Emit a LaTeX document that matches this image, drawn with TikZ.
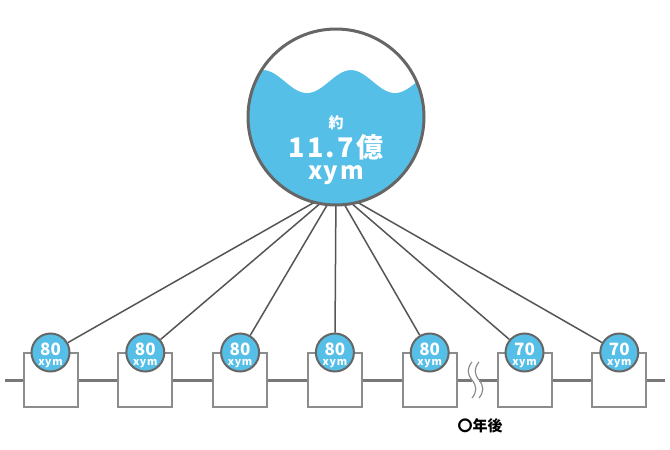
\documentclass[tikz,border=0pt]{standalone}
\usepackage{fontspec}
\setmainfont{Noto Sans CJK JP}
\newfontfamily\widefont[LetterSpace=8]{Noto Sans CJK JP}
\definecolor{water}{RGB}{86,191,232}
\definecolor{rim}{RGB}{102,102,102}
\definecolor{pipe}{RGB}{120,120,120}
\definecolor{wall}{RGB}{140,140,140}
\definecolor{wire}{RGB}{85,85,85}
\begin{document}
\begin{tikzpicture}[x=1pt, y=-1pt,
  meter/.style={circle, draw=rim, line width=2pt, fill=water, minimum size=38pt, inner sep=0pt},
  house/.style={rectangle, draw=wall, line width=2pt, fill=white, minimum size=54pt, inner sep=0pt},
  small/.style={text=white, font=\bfseries, anchor=base, inner sep=0pt}]
\useasboundingbox (0,0) rectangle (670,450);
\coordinate (hub) at (336,190);
\coordinate (west) at (5,380);
\coordinate (east) at (665,380);
\coordinate (brk1) at (472,380);
\coordinate (brk2) at (479,380);
\foreach \i in {1,...,7}
  \node[house] (box\i) at ({50.5+94.8*(\i-1)},380) {};
\draw[pipe, line width=3pt] (west) -- (box1.west);
\foreach \i/\j in {1/2,2/3,3/4,4/5,6/7}
  \draw[pipe, line width=3pt] (box\i.east) -- (box\j.west);
\draw[pipe, line width=3pt] (box5.east) -- (brk1);
\draw[pipe, line width=3pt] (brk2) -- (box6.west);
\draw[pipe, line width=3pt] (box7.east) -- (east);
\draw[wall, line width=1.2pt] (472,362) .. controls (467,368) and (467,374) .. (472,380) .. controls (477,386) and (477,392) .. (472,398);
\draw[wall, line width=1.2pt] (479,362) .. controls (474,368) and (474,374) .. (479,380) .. controls (484,386) and (484,392) .. (479,398);
\node[font=\bfseries, anchor=base, inner sep=0pt] (later) at (480,431) {\fontsize{15}{15}\selectfont 〇年後};
\foreach \i/\v in {1/80,2/80,3/80,4/80,5/80,6/70,7/70} {
  \node[meter] (m\i) at ({50.5+94.8*(\i-1)},352.5) {};
  \node[small] (v\i) at ({50.5+94.8*(\i-1)},355.5) {\fontsize{17}{17}\selectfont\v};
  \node[small] (u\i) at ({50.5+94.8*(\i-1)},365.5) {\fontsize{10.5}{10}\selectfont\widefont xym};
  \draw[wire, line width=1.5pt] (hub) -- (m\i);
}
\node[circle, fill=water, minimum size=176pt, inner sep=0pt] (tank) at (336,117) {};
\begin{scope}
\clip (tank.center) circle (88pt);
\fill[white] (230,20) -- plot[domain=230:445, samples=80] (\x, {81.5-11.5*cos(4.0909*(\x-263))}) -- (445,20) -- cycle;
\end{scope}
\draw[rim, line width=3pt] (tank.center) circle (88pt);
\node[small] (t1) at (336,128) {\fontsize{15}{15}\selectfont 約};
\node[small] (t2) at (336,157) {\fontsize{27}{27}\selectfont\widefont 11.7億};
\node[small] (t3) at (336,179) {\fontsize{24}{24}\selectfont\widefont xym};
\end{tikzpicture}
\end{document}
